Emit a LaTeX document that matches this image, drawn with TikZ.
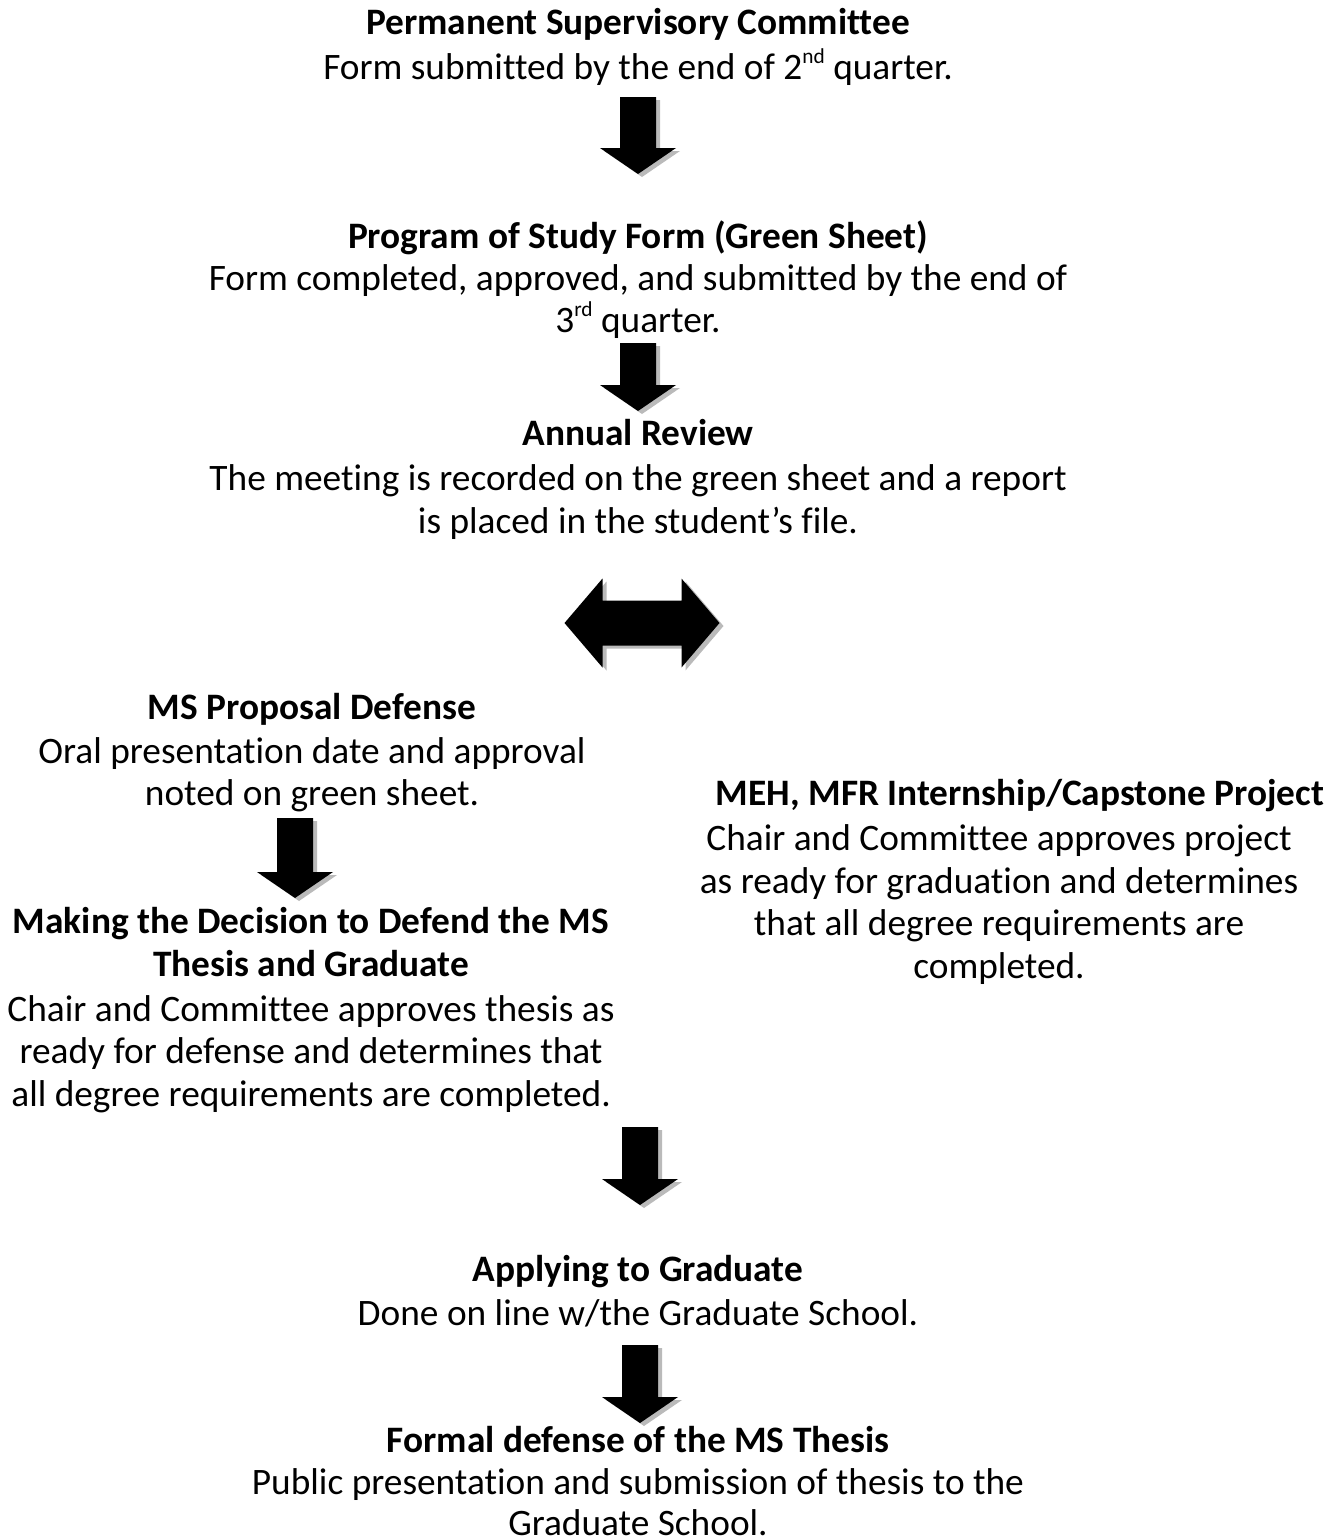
\documentclass[tikz,border=0pt]{standalone}
\usepackage{fontspec}
\setmainfont{Carlito}[Ligatures=NoCommon]
\newcommand{\bodyfont}{\fontsize{28pt}{34pt}\selectfont}
\newcommand{\supr}[1]{\raisebox{0.42em}{\fontsize{16pt}{16pt}\selectfont #1}}
\begin{document}
\begin{tikzpicture}[x=0.75pt,y=-0.75pt,
  txt/.style={anchor=base,inner sep=0pt,font=\bodyfont},
  ttl/.style={anchor=base,inner sep=0pt,font=\bodyfont\bfseries},
  shadowfill/.style={fill=black!27},
  pics/downarrow/.style={code={
    \fill[shadowfill] (-18+4,0+3) -- (18+4,0+3) -- (18+4,#1-26+3) -- (38+4,#1-26+3) -- (0+4,#1+3) -- (-38+4,#1-26+3) -- (-18+4,#1-26+3) -- cycle;
    \fill[black] (-18,0) -- (18,0) -- (18,#1-26) -- (38,#1-26) -- (0,#1) -- (-38,#1-26) -- (-18,#1-26) -- cycle;
  }},
  dblarrow/.pic={
    \fill[shadowfill] (-77.5+4,0+3) -- (-39.5+4,-44.5+3) -- (-39.5+4,-22.5+3) -- (39.5+4,-22.5+3) -- (39.5+4,-44.5+3) -- (77.5+4,0+3) -- (39.5+4,44.5+3) -- (39.5+4,22.5+3) -- (-39.5+4,22.5+3) -- (-39.5+4,44.5+3) -- cycle;
    \fill[black] (-77.5,0) -- (-39.5,-44.5) -- (-39.5,-22.5) -- (39.5,-22.5) -- (39.5,-44.5) -- (77.5,0) -- (39.5,44.5) -- (39.5,22.5) -- (-39.5,22.5) -- (-39.5,44.5) -- cycle;
  }]
\useasboundingbox (0,0) rectangle (1342,1539);

% Block 1
\node[ttl] (b1t) at (638,34) {Permanent Supervisory Committee};
\node[txt] (b1a) at (638,79) {Form submitted by the end of 2\supr{nd} quarter.};
\pic at (638,97) {downarrow=77};

% Block 2
\node[ttl] (b2t) at (638,248) {Program of Study Form (Green Sheet)};
\node[txt] (b2a) at (638,290) {Form completed, approved, and submitted by the end of};
\node[txt] (b2b) at (638,332) {3\supr{rd} quarter.};
\pic at (638,343) {downarrow=68};

% Block 3
\node[ttl] (b3t) at (638,445) {Annual Review};
\node[txt] (b3a) at (638,490) {The meeting is recorded on the green sheet and a report};
\node[txt] (b3b) at (638,533) {is placed in the student’s file.};
\pic at (642,623) {dblarrow};

% Left column
\node[ttl] (l1t) at (312,719) {MS Proposal Defense};
\node[txt] (l1a) at (312,763) {Oral presentation date and approval};
\node[txt] (l1b) at (312,805) {noted on green sheet.};
\pic at (295,818) {downarrow=80};
\node[ttl] (l2t) at (311,933) {Making the Decision to Defend the MS};
\node[ttl] (l2u) at (311,976) {Thesis and Graduate};
\node[txt] (l2a) at (311,1021) {Chair and Committee approves thesis as};
\node[txt] (l2b) at (311,1063) {ready for defense and determines that};
\node[txt] (l2c) at (311,1106) {all degree requirements are completed.};

% Right column
\node[ttl] (r1t) at (1020,805) {MEH, MFR Internship/Capstone Project};
\node[txt] (r1a) at (999,850) {Chair and Committee approves project};
\node[txt] (r1b) at (999,893) {as ready for graduation and determines};
\node[txt] (r1c) at (999,935) {that all degree requirements are};
\node[txt] (r1d) at (999,978) {completed.};

% Lower blocks
\pic at (640,1127) {downarrow=78};
\node[ttl] (b4t) at (638,1281) {Applying to Graduate};
\node[txt] (b4a) at (638,1325) {Done on line w/the Graduate School.};
\pic at (640,1345) {downarrow=78};
\node[ttl] (b5t) at (638,1452) {Formal defense of the MS Thesis};
\node[txt] (b5a) at (638,1494) {Public presentation and submission of thesis to the};
\node[txt] (b5b) at (638,1535) {Graduate School.};
\end{tikzpicture}
\end{document}
